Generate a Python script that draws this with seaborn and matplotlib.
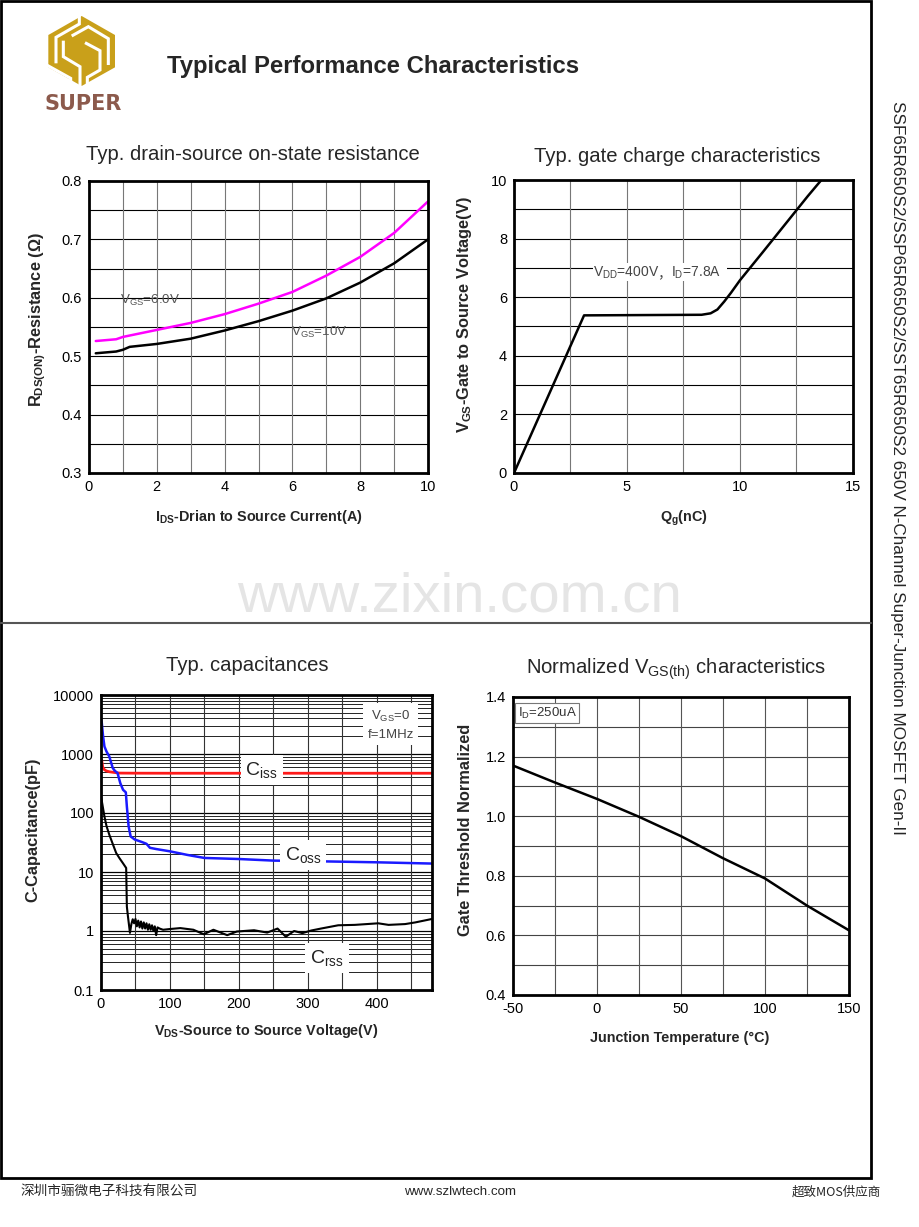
import numpy as np
import pandas as pd
import matplotlib
matplotlib.use("Agg")
import matplotlib.pyplot as plt
import seaborn as sns
from matplotlib.patches import Polygon, Rectangle
from matplotlib.lines import Line2D
from matplotlib.ticker import FixedLocator, NullFormatter

# ---------------- data ----------------
ids_6v = [0.2, 0.8, 1, 2, 3, 4, 5, 6, 7, 8, 9, 10]
rds_6v = [0.526, 0.529, 0.533, 0.545, 0.557, 0.572, 0.590, 0.610, 0.638, 0.670, 0.711, 0.765]
ids_10v = [0.2, 0.8, 1.0, 1.2, 2, 3, 4, 5, 6, 7, 8, 9, 10]
rds_10v = [0.505, 0.508, 0.511, 0.516, 0.521, 0.530, 0.544, 0.560, 0.578, 0.599, 0.626, 0.659, 0.700]

qg = [0, 3.1, 8.3, 8.7, 9.0, 9.3, 9.6, 10.0, 11.0, 12.0, 13.0, 13.6]
vgs_q = [0, 5.38, 5.40, 5.45, 5.58, 5.85, 6.15, 6.58, 7.53, 8.49, 9.45, 10.0]

vds_ciss = [0, 1, 2.5, 5, 8, 12, 20, 27, 50, 100, 200, 300, 400, 480]
ciss = [800, 790, 600, 540, 515, 500, 485, 475, 473, 472, 472, 472, 472, 472]

vds_coss = [0, 1, 3, 5, 8, 12, 17, 20, 24, 28, 32, 36, 37.5, 40, 43, 49, 60, 66, 71, 80,
            100, 125, 150, 200, 250, 300, 400, 480]
coss = [3800, 3500, 2000, 1340, 1100, 910, 580, 520, 475, 320, 247, 224, 129, 60, 40, 35.5,
        32, 30, 25.7, 24.5, 22.4, 19.5, 17.3, 16.6, 15.6, 15.3, 14.6, 13.9]

vds_crss = [0, 2, 5, 8, 12, 17, 22, 27, 32, 36.5, 37.5, 39, 42, 44, 46, 48, 50, 52, 54, 56,
            58, 60, 62, 64, 66, 68, 70, 72, 74, 76, 78, 80, 82, 85, 90, 100, 115, 134, 149,
            163, 183, 197, 222, 241, 256, 268, 280, 292, 305, 319, 344, 368, 402, 417, 441,
            456, 480]
crss = [191, 140, 87, 60, 43, 30, 21, 17, 14, 11.7, 2.6, 1.8, 0.93, 1.3, 1.58, 1.35, 1.6,
        1.2, 1.5, 1.15, 1.45, 1.1, 1.4, 1.1, 1.35, 1.05, 1.3, 1.05, 1.25, 1.0, 1.2, 0.85,
        1.15, 1.1, 1.05, 1.08, 1.12, 1.05, 0.88, 1.05, 0.85, 0.98, 1.03, 0.94, 1.1, 0.8,
        1.0, 0.92, 1.02, 1.1, 1.25, 1.27, 1.35, 1.27, 1.31, 1.4, 1.6]

temp = [-50, -25, 0, 25, 50, 75, 100, 125, 150]
vth_norm = [1.170, 1.113, 1.058, 0.998, 0.933, 0.859, 0.791, 0.700, 0.617]

rds_xticks = [0, 2, 4, 6, 8, 10]
rds_yticks = [0.3, 0.4, 0.5, 0.6, 0.7, 0.8]
qg_xticks = [0, 5, 10, 15]
qg_yticks = [0, 2, 4, 6, 8, 10]
cap_xticks = [0, 100, 200, 300, 400]
cap_yticks = [0.1, 1, 10, 100, 1000, 10000]
cap_yticklabels = ["0.1", "1", "10", "100", "1000", "10000"]
vth_xticks = [-50, 0, 50, 100, 150]
vth_yticks = [0.4, 0.6, 0.8, 1.0, 1.2, 1.4]

# ---------------- style ----------------
sns.set_style("white")
plt.rcParams['font.family'] = ['Liberation Sans', 'Noto Sans CJK SC', 'DejaVu Sans']
plt.rcParams['mathtext.fontset'] = 'custom'
plt.rcParams['mathtext.rm'] = 'Liberation Sans'
plt.rcParams['mathtext.it'] = 'Liberation Sans'
plt.rcParams['mathtext.bf'] = 'Liberation Sans:bold'
plt.rcParams['axes.unicode_minus'] = False

W, H = 920, 1227
fig = plt.figure(figsize=(W / 100, H / 100), dpi=100)


def rect(x0, y0, x1, y1):
    return [x0 / W, 1 - y1 / H, (x1 - x0) / W, (y1 - y0) / H]


def fx(x):
    return x / W


def fy(y):
    return 1 - y / H


TICK_FS = 10.5
XLAB_FS = 10.4
YLAB_FS = 11.8
TITLE_FS = 14.6


def style_axes(ax):
    for s in ax.spines.values():
        s.set_linewidth(2.0)
        s.set_color('black')
    ax.tick_params(length=0, labelsize=TICK_FS, pad=5, colors='black')
    ax.set_axisbelow(True)


def hgrid(ax, vals, color='black', lw=0.8):
    for v in vals:
        ax.axhline(v, color=color, lw=lw, zorder=0.5)


def vgrid(ax, vals, color='#777777', lw=0.8):
    for v in vals:
        ax.axvline(v, color=color, lw=lw, zorder=0.5)


def set_labels(ax, xl, yl, xpos, ypos):
    ax.set_xlabel(xl, fontsize=XLAB_FS, fontweight='bold')
    ax.set_ylabel(yl, fontsize=YLAB_FS, fontweight='bold')
    ax.xaxis.label.set_va('center')
    ax.yaxis.label.set_va('center')
    ax.xaxis.set_label_coords(*xpos)
    ax.yaxis.set_label_coords(*ypos)


# ---------------- page frame ----------------
fig.add_artist(Rectangle((fx(1), fy(1178)), fx(871) - fx(1), fy(1) - fy(1178),
                         transform=fig.transFigure, fill=False, lw=2, ec='black'))
fig.add_artist(Line2D([fx(1), fx(871)], [fy(622.5), fy(622.5)], transform=fig.transFigure,
                      color='#555555', lw=1.5))

# watermark
fig.text(fx(459), fy(597), "www.zixin.com.cn", fontsize=40.6, color='#e5e5e5',
         ha='center', va='center', zorder=0)

# logo (stylised): gold hexagon with white S-shaped gaps
gold = '#c9a01a'
z = lambda pts: [(fx(30 + a / 3), fy(10 + b / 3)) for a, b in pts]
hexagon = [(155, 18), (255, 75), (255, 172), (155, 228), (55, 172), (55, 75)]
fig.add_artist(Polygon(z(hexagon), closed=True, transform=fig.transFigure, fc=gold, ec='none'))
gaps = [
    [(148, 10), (148, 42), (78, 82), (78, 160)],
    [(100, 92), (100, 140), (150, 170), (150, 240)],
    [(125, 78), (175, 50), (235, 86), (235, 165)],
    [(165, 98), (210, 122), (210, 180), (172, 202), (172, 240)],
    [(50, 165), (122, 205), (122, 240)],
    [(260, 185), (200, 218)],
]
for g in gaps:
    xs, ys = zip(*z(g))
    fig.add_artist(Line2D(xs, ys, transform=fig.transFigure, color='white', lw=2.2,
                          solid_joinstyle='miter', solid_capstyle='butt'))
fig.text(fx(83), fy(104), "SUPER", fontsize=15, fontweight='bold', color='#8c5a4c',
         ha='center', va='center', family=['DejaVu Sans'])

fig.text(fx(167), fy(66), "Typical Performance Characteristics", fontsize=17.2,
         fontweight='bold', ha='left', va='center')

# right vertical text
fig.text(fx(897), fy(468), "SSF65R650S2/SSP65R650S2/SST65R650S2 650V N-Channel Super-Junction MOSFET Gen-II",
         fontsize=12.3, rotation=-90, ha='center', va='center')

# footer
fig.text(fx(20), fy(1192), "深圳市骊微电子科技有限公司", fontsize=9.8, ha='left', va='center',
         family=['Noto Sans CJK SC', 'DejaVu Sans'])
fig.text(fx(460), fy(1192), "www.szlwtech.com", fontsize=9.6, ha='center', va='center')
fig.text(fx(881), fy(1192), "超致MOS供应商", fontsize=9, ha='right', va='center',
         family=['Noto Sans CJK SC', 'DejaVu Sans'])

# ---------------- chart 1: Rds(on) ----------------
ax1 = fig.add_axes(rect(89, 181, 428, 473))
style_axes(ax1)
sns.lineplot(x=ids_6v, y=rds_6v, ax=ax1, color='#ff00ff', lw=1.8, sort=False, estimator=None)
sns.lineplot(x=ids_10v, y=rds_10v, ax=ax1, color='black', lw=1.8, sort=False, estimator=None)
ax1.set_xlim(0, 10)
ax1.set_ylim(0.3, 0.8)
ax1.set_xticks(rds_xticks)
ax1.set_yticks(rds_yticks)
ax1.set_yticklabels([f"{v:.1f}" for v in rds_yticks])
hgrid(ax1, np.arange(0.35, 0.8, 0.05))
vgrid(ax1, range(1, 10))
ax1.text(0.92, 0.595, r"V$_\mathregular{GS}$=6.0V", fontsize=9.6, color='#555555', va='center')
ax1.text(5.97, 0.541, r"V$_\mathregular{GS}$=10V", fontsize=9.6, color='#555555', va='center')
set_labels(ax1, r"I$_\mathregular{DS}$-Drian to Source Current(A)",
           r"R$_\mathregular{DS(ON)}$-Resistance (Ω)", (0.5, -0.151), (-0.150, 0.524))
fig.text(fx(253), fy(154), "Typ. drain-source on-state resistance", fontsize=TITLE_FS,
         ha='center', va='center')

# ---------------- chart 2: gate charge ----------------
ax2 = fig.add_axes(rect(514, 180, 853, 473))
style_axes(ax2)
sns.lineplot(x=qg, y=vgs_q, ax=ax2, color='black', lw=1.8, sort=False, estimator=None)
ax2.set_xlim(0, 15)
ax2.set_ylim(0, 10)
ax2.set_xticks(qg_xticks)
ax2.set_yticks(qg_yticks)
hgrid(ax2, range(1, 10))
vgrid(ax2, [2.5, 5, 7.5, 10, 12.5])
ax2.add_patch(Rectangle((3.5, 6.55), 5.93, 0.62, fc='white', ec='none', zorder=1))
ax2.text(6.44, 6.83, r"V$_\mathregular{DD}$=400V", fontsize=10, color='#444444',
         ha='right', va='center', zorder=3)
ax2.text(6.66, 6.83, "，", fontsize=10, color='#444444', ha='center', va='center', zorder=3,
         family=['Noto Sans CJK SC', 'DejaVu Sans'])
ax2.text(6.95, 6.83, r"I$_\mathregular{D}$=7.8A", fontsize=10, color='#444444',
         ha='left', va='center', zorder=3)
set_labels(ax2, r"Q$_\mathregular{g}$(nC)", r"V$_\mathregular{GS}$-Gate to Source Voltage(V)",
           (0.501, -0.154), (-0.145, 0.539))
fig.text(fx(677), fy(156), "Typ. gate charge characteristics", fontsize=TITLE_FS,
         ha='center', va='center')

# ---------------- chart 3: capacitances ----------------
ax3 = fig.add_axes(rect(101, 695, 432, 990))
style_axes(ax3)
ax3.set_yscale('log')
sns.lineplot(x=vds_ciss, y=ciss, ax=ax3, color='#ff1a1a', lw=2.0, sort=False, estimator=None)
sns.lineplot(x=vds_coss, y=coss, ax=ax3, color='#1a1aff', lw=1.8, sort=False, estimator=None)
sns.lineplot(x=vds_crss, y=crss, ax=ax3, color='black', lw=1.5, sort=False, estimator=None)
ax3.set_xlim(0, 480)
ax3.set_ylim(0.1, 10000)
ax3.set_xticks(cap_xticks)
ax3.yaxis.set_major_locator(FixedLocator(cap_yticks))
ax3.set_yticklabels(cap_yticklabels)
ax3.yaxis.set_minor_formatter(NullFormatter())
minor_vals = [m * 10.0 ** e for e in range(-1, 4) for m in range(2, 10)]
hgrid(ax3, minor_vals, lw=0.6)
hgrid(ax3, [1, 10, 100, 1000], lw=0.9)
vgrid(ax3, range(50, 480, 50), color='#333333', lw=0.8)
box = dict(fc='white', ec='none', pad=3.5)
ax3.text(233, 530, r"C$_\mathregular{iss}$", fontsize=14, color='#222222', ha='center',
         va='center', zorder=3, bbox=box)
ax3.text(293, 19.5, r"C$_\mathregular{oss}$", fontsize=14, color='#222222', ha='center',
         va='center', zorder=3, bbox=box)
ax3.text(328, 0.35, r"C$_\mathregular{rss}$", fontsize=14, color='#222222', ha='center',
         va='center', zorder=3, bbox=box)
ax3.text(420, 3100, "V$_\\mathregular{GS}$=0\nf=1MHz", fontsize=9.5, color='#444444',
         ha='center', va='center', zorder=3, linespacing=1.6,
         bbox=dict(fc='white', ec='none', pad=3))
set_labels(ax3, r"V$_\mathregular{DS}$-Source to Source Voltage(V)", "C-Capacitance(pF)",
           (0.498, -0.139), (-0.205, 0.542))
fig.text(fx(247), fy(666), "Typ. capacitances", fontsize=TITLE_FS, ha='center', va='center')

# ---------------- chart 4: normalized Vth ----------------
ax4 = fig.add_axes(rect(513, 697, 849, 995))
style_axes(ax4)
sns.lineplot(x=temp, y=vth_norm, ax=ax4, color='black', lw=1.8, sort=False, estimator=None)
ax4.set_xlim(-50, 150)
ax4.set_ylim(0.4, 1.4)
ax4.set_xticks(vth_xticks)
ax4.set_yticks(vth_yticks)
ax4.set_yticklabels([f"{v:.1f}" for v in vth_yticks])
hgrid(ax4, np.arange(0.5, 1.4, 0.1), color='#444444')
vgrid(ax4, [-25, 0, 25, 50, 75, 100, 125], color='#555555')
ax4.text(-47.2, 1.346, r"I$_\mathregular{D}$=250uA", fontsize=9.5, color='#333333',
         ha='left', va='center', zorder=3,
         bbox=dict(fc='white', ec='#777777', lw=0.8, pad=2))
set_labels(ax4, "Junction Temperature (°C)", "Gate Threshold Normalized",
           (0.497, -0.144), (-0.140, 0.554))
fig.text(fx(676), fy(669), r"Normalized V$\mathregular{_{GS(th)}}$ characteristics",
         fontsize=TITLE_FS, ha='center', va='center')

fig.savefig("out.png", dpi=100)
